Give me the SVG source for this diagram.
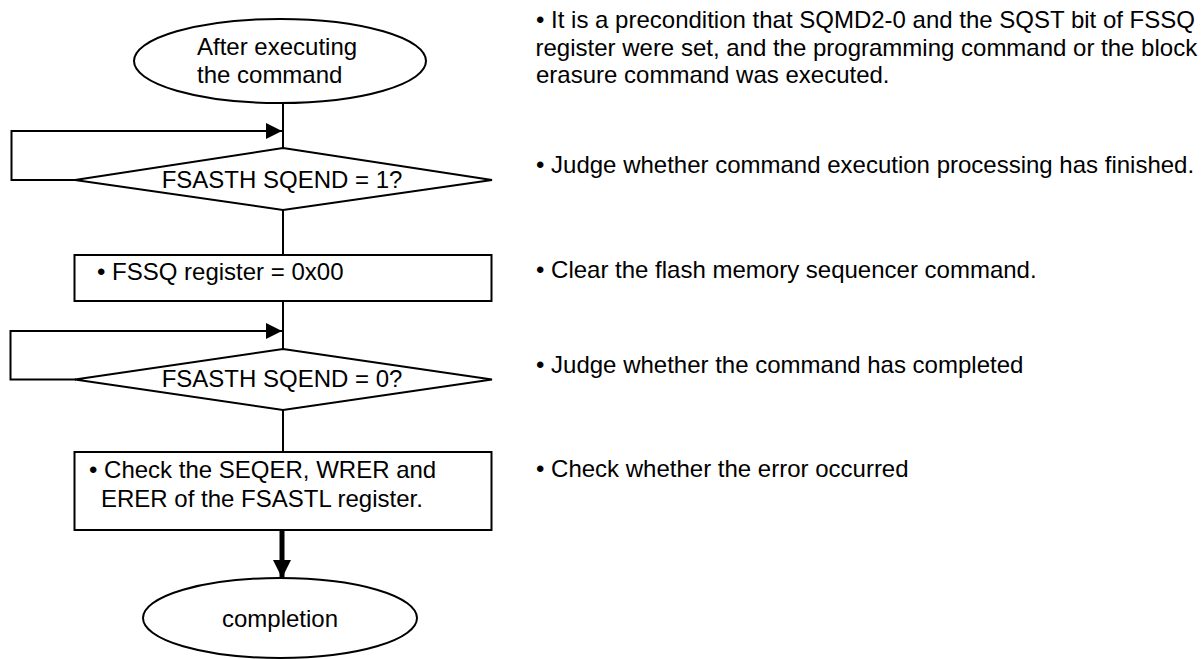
<svg xmlns="http://www.w3.org/2000/svg" width="1202" height="659" viewBox="0 0 1202 659">
<style>
  .shape { fill: #ffffff; stroke: #000000; stroke-width: 2; }
  .conn { fill: none; stroke: #000000; stroke-width: 2; }
  .thick { fill: none; stroke: #000000; stroke-width: 5; }
  text { font-family: "Liberation Sans", Arial, sans-serif; font-size: 24px; fill: #000000; }
  .mid { text-anchor: middle; }
</style>
<defs>
  <marker id="arrow" viewBox="0 0 16 16" refX="16" refY="8" markerWidth="16" markerHeight="16" markerUnits="userSpaceOnUse" orient="auto">
    <path d="M0,0 L16,8 L0,16 Z" fill="#000000"/>
  </marker>
  <marker id="arrowBig" viewBox="0 0 18 18" refX="17" refY="9" markerWidth="18" markerHeight="18" markerUnits="userSpaceOnUse" orient="auto">
    <path d="M0,0 L18,9 L0,18 Z" fill="#000000"/>
  </marker>
</defs>
<rect x="0" y="0" width="1202" height="659" fill="#ffffff"/>

<g id="connectors">
  <line class="conn" x1="283" y1="103" x2="283" y2="148"/>
  <path class="conn" d="M76,180 L11.5,180 L11.5,131 L282,131" marker-end="url(#arrow)"/>
  <line class="conn" x1="283" y1="210" x2="283" y2="255"/>
  <line class="conn" x1="283" y1="301" x2="283" y2="349"/>
  <path class="conn" d="M76,379.5 L10.5,379.5 L10.5,331 L282,331" marker-end="url(#arrow)"/>
  <line class="conn" x1="283" y1="410" x2="283" y2="452"/>
  <line class="thick" x1="282" y1="531" x2="282" y2="577" marker-end="url(#arrowBig)"/>
</g>

<g id="start">
  <ellipse class="shape" cx="280" cy="61" rx="146" ry="42"/>
  <text x="197" y="55">After executing</text>
  <text x="197" y="83">the command</text>
</g>

<g id="decision1">
  <polygon class="shape" points="283,148 492,180 283,210 75,180"/>
  <text class="mid" x="282" y="188">FSASTH SQEND = 1?</text>
</g>

<g id="process1">
  <rect class="shape" x="74.5" y="255" width="417" height="46"/>
  <text x="97" y="280">• FSSQ register = 0x00</text>
</g>

<g id="decision2">
  <polygon class="shape" points="283,349 492,379.5 283,410 75,379.5"/>
  <text class="mid" x="282" y="387">FSASTH SQEND = 0?</text>
</g>

<g id="process2">
  <rect class="shape" x="74.5" y="452" width="417" height="78"/>
  <text x="89" y="478">• Check the SEQER, WRER and</text>
  <text x="101" y="507">ERER of the FSASTL register.</text>
</g>

<g id="end">
  <ellipse class="shape" cx="280" cy="618" rx="137" ry="40"/>
  <text class="mid" x="280" y="627">completion</text>
</g>

<g id="notes">
  <text x="536" y="28">• It is a precondition that SQMD2-0 and the SQST bit of FSSQ</text>
  <text x="535.5" y="55.5">register were set, and the programming command or the block</text>
  <text x="536" y="83">erasure command was executed.</text>
  <text x="536" y="173">• Judge whether command execution processing has finished.</text>
  <text x="536" y="278">• Clear the flash memory sequencer command.</text>
  <text x="536" y="373">• Judge whether the command has completed</text>
  <text x="536" y="477">• Check whether the error occurred</text>
</g>
</svg>
